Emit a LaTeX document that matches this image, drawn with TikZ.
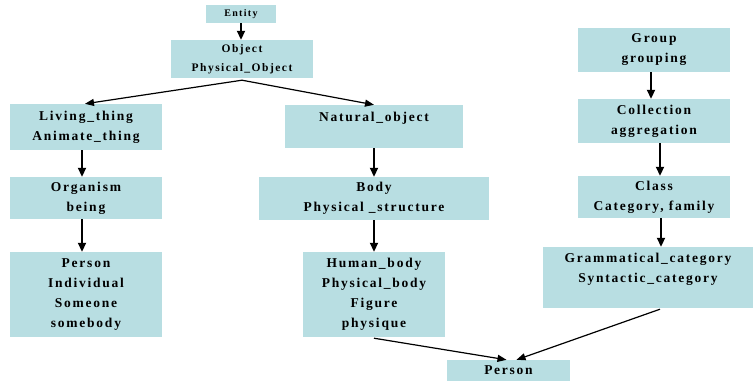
\documentclass[tikz,border=0pt]{standalone}
\usepackage{fontspec}
\setmainfont{Liberation Serif}[LetterSpace=13]
\usetikzlibrary{arrows.meta}
\definecolor{boxfill}{RGB}{184,222,226}
\begin{document}
\begin{tikzpicture}[x=1pt,y=-1pt,
  box/.style={fill=boxfill, inner sep=0pt, align=center, font=\bfseries\fontsize{13.5}{20}\selectfont},
  varr/.style={-{Triangle[length=9pt,width=8pt]}, line width=1.8pt},
  darr/.style={-{Triangle[length=9pt,width=7pt]}, line width=1.2pt}]
\useasboundingbox (0,0) rectangle (754,381);
\node[box, minimum width=70pt, minimum height=18pt, font=\bfseries\fontsize{10}{12}\selectfont] (entity) at (241,14) {Entity};
\node[box, minimum width=142pt, minimum height=38pt, font=\bfseries\fontsize{11.5}{19}\selectfont] (object) at (242,59) {Object\\Physical\_Object};
\node[box, minimum width=152pt, minimum height=46pt] (living) at (86,127) {Living\_thing\\Animate\_thing};
\node[box, minimum width=178pt, minimum height=43pt] (natural) at (374,126.5) {Natural\_object\\\mbox{}};
\node[box, minimum width=152pt, minimum height=42pt] (organism) at (86,198) {Organism\\being};
\node[box, minimum width=230pt, minimum height=43pt] (body) at (374,198.5) {Body\\Physical \_structure};
\node[box, minimum width=152pt, minimum height=85pt] (personl) at (86,294.5) {Person\\Individual\\Someone\\somebody};
\node[box, minimum width=142pt, minimum height=85pt] (human) at (374,294.5) {Human\_body\\Physical\_body\\Figure\\physique};
\node[box, minimum width=152pt, minimum height=44pt] (group) at (654,50) {Group\\grouping};
\node[box, minimum width=152pt, minimum height=44pt] (collection) at (654,121) {Collection\\aggregation};
\node[box, minimum width=152pt, minimum height=42pt] (class) at (654,197) {Class\\Category, family};
\node[box, minimum width=210pt, minimum height=61pt] (gram) at (648,277.5) {Grammatical\_category\\Syntactic\_category\\\mbox{}};
\node[box, minimum width=123pt, minimum height=21pt] (personb) at (508.5,370.5) {Person};

\coordinate (apex) at ([yshift=-2pt]object.south);
\draw[varr] (entity.south) -- (entity.south |- object.north);
\draw[darr] (apex) -- ([xshift=-1pt]living.north);
\draw[darr] (apex) -- (natural.north);
\draw[varr] ([xshift=-4pt]living.south) -- ([xshift=-4pt]organism.north);
\draw[varr] ([xshift=-4pt]organism.south) -- ([xshift=-4pt]personl.north);
\draw[varr] (natural.south) -- (natural.south |- body.north);
\draw[varr] (human.north |- body.south) -- (human.north);
\draw[varr] ([xshift=-3pt]group.south) -- ([xshift=-3pt]collection.north);
\draw[varr] ([xshift=6pt]collection.south) -- ([xshift=6pt]class.north);
\draw[varr] ([xshift=7pt]class.south) -- ([xshift=7pt]class.south |- gram.north);
\draw[darr] ([yshift=-1pt]human.south) -- ([xshift=-2pt]personb.north);
\draw[darr] ([xshift=12pt,yshift=-1pt]gram.south) -- ([xshift=8pt]personb.north);
\end{tikzpicture}
\end{document}
